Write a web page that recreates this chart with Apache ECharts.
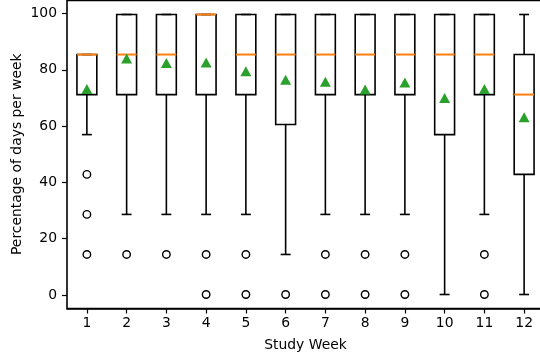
<!DOCTYPE html>
<html>
<head>
<meta charset="utf-8">
<script src="https://cdn.jsdelivr.net/npm/echarts@6/dist/echarts.min.js"></script>
<style>html,body{margin:0;padding:0;background:#fff;}#c{width:540px;height:356px;}</style>
</head>
<body>
<div id="c"></div>
<script>
const weeks = ['1','2','3','4','5','6','7','8','9','10','11','12'];
const whiskerLow  = [57.1, 28.6, 28.6, 28.6, 28.6, 14.3, 28.6, 28.6, 28.6, 0, 28.6, 0];
const q1          = [71.4, 71.4, 71.4, 71.4, 71.4, 60.7, 71.4, 71.4, 71.4, 57.1, 71.4, 42.9];
const median      = [85.7, 85.7, 85.7, 100, 85.7, 85.7, 85.7, 85.7, 85.7, 85.7, 85.7, 71.4];
const q3          = [85.7, 100, 100, 100, 100, 100, 100, 100, 100, 100, 100, 85.7];
const whiskerHigh = [85.7, 100, 100, 100, 100, 100, 100, 100, 100, 100, 100, 100];
const means       = [73.4, 84.3, 82.7, 82.9, 79.7, 76.7, 76.0, 73.2, 75.7, 70.2, 73.4, 63.3];
const outliers = [
  [42.9, 28.6, 14.3], [14.3], [14.3], [14.3, 0], [14.3, 0], [0],
  [14.3, 0], [14.3, 0], [14.3, 0], [], [14.3, 0], []
];
const yTicks = [0, 20, 40, 60, 80, 100];

const boxData = weeks.map((w, i) => [i, whiskerLow[i], q1[i], median[i], q3[i], whiskerHigh[i]]);
const meanData = weeks.map((w, i) => [i, means[i]]);
const outlierData = [];
outliers.forEach((arr, i) => arr.forEach(v => outlierData.push([i, v])));

const font = 'DejaVu Sans';
const FS = 13.9;
const chart = echarts.init(document.getElementById('c'), null, {renderer: 'canvas'});
const LW = 1.6;

chart.setOption({
  animation: false,
  backgroundColor: '#fff',
  grid: [
    {left: 67, right: -4, top: 0.5, bottom: 47.5, show: true, borderColor: '#000', borderWidth: LW, backgroundColor: 'transparent', containLabel: false, outerBoundsMode: 'none'},
    {left: 67, right: -4, top: 13.5, bottom: 61, show: false, containLabel: false, outerBoundsMode: 'none'}
  ],
  xAxis: [
    {
      type: 'category', gridIndex: 0, data: weeks, boundaryGap: true,
      name: 'Study Week', nameLocation: 'middle', nameGap: 30, nameMoveOverlap: false,
      nameTextStyle: {fontFamily: font, fontSize: FS, color: '#000'},
      axisLine: {show: true, onZero: false, lineStyle: {color: '#000', width: LW}},
      axisTick: {show: true, alignWithLabel: true, length: 5, lineStyle: {color: '#000', width: 1.2}},
      axisLabel: {fontFamily: font, fontSize: FS, color: '#000', margin: 8},
      splitLine: {show: false}
    },
    {type: 'category', gridIndex: 1, data: weeks, show: false}
  ],
  yAxis: [
    {
      type: 'value', gridIndex: 0, min: -5, max: 105,
      axisLine: {show: false}, axisTick: {show: false}, axisLabel: {show: false}, splitLine: {show: false}
    },
    {
      type: 'value', gridIndex: 1, min: yTicks[0], max: yTicks[yTicks.length - 1], interval: 20,
      name: 'Percentage of days per week', nameLocation: 'middle', nameGap: 43, nameMoveOverlap: false,
      nameTextStyle: {fontFamily: font, fontSize: FS, color: '#000'},
      axisLine: {show: false, onZero: false},
      axisTick: {show: true, length: 5, lineStyle: {color: '#000', width: 1.2}},
      axisLabel: {fontFamily: font, fontSize: FS, color: '#000', margin: 10},
      splitLine: {show: false}
    }
  ],
  series: [
    {
      type: 'custom', xAxisIndex: 0, yAxisIndex: 0, data: boxData, z: 3,
      renderItem: function (params, api) {
        const x = api.value(0);
        const band = api.size([1, 0])[0];
        const hw = band * 0.25, cw = band * 0.125;
        const pLo = api.coord([x, api.value(1)]);
        const pQ1 = api.coord([x, api.value(2)]);
        const pMed = api.coord([x, api.value(3)]);
        const pQ3 = api.coord([x, api.value(4)]);
        const pHi = api.coord([x, api.value(5)]);
        const cx = pQ1[0];
        const st = {stroke: '#000', lineWidth: LW, fill: null};
        return {
          type: 'group',
          children: [
            {type: 'line', shape: {x1: cx, y1: pQ1[1], x2: cx, y2: pLo[1]}, style: st},
            {type: 'line', shape: {x1: cx, y1: pQ3[1], x2: cx, y2: pHi[1]}, style: st},
            {type: 'line', shape: {x1: cx - cw, y1: pLo[1], x2: cx + cw, y2: pLo[1]}, style: st},
            {type: 'line', shape: {x1: cx - cw, y1: pHi[1], x2: cx + cw, y2: pHi[1]}, style: st},
            {type: 'rect', shape: {x: cx - hw, y: pQ3[1], width: hw * 2, height: pQ1[1] - pQ3[1]}, style: st},
            {type: 'line', shape: {x1: cx - hw, y1: pMed[1], x2: cx + hw, y2: pMed[1]}, style: {stroke: '#ff7f0e', lineWidth: 2}}
          ]
        };
      }
    },
    {
      type: 'scatter', xAxisIndex: 0, yAxisIndex: 0, data: outlierData, z: 4,
      symbol: 'circle', symbolSize: 7.5,
      itemStyle: {color: '#fff', borderColor: '#000', borderWidth: 1.4, opacity: 1}
    },
    {
      type: 'scatter', xAxisIndex: 0, yAxisIndex: 0, data: meanData, z: 5,
      symbol: 'triangle', symbolSize: [11, 10],
      itemStyle: {color: '#2ca02c', opacity: 1}
    }
  ]
});
</script>
</body>
</html>
